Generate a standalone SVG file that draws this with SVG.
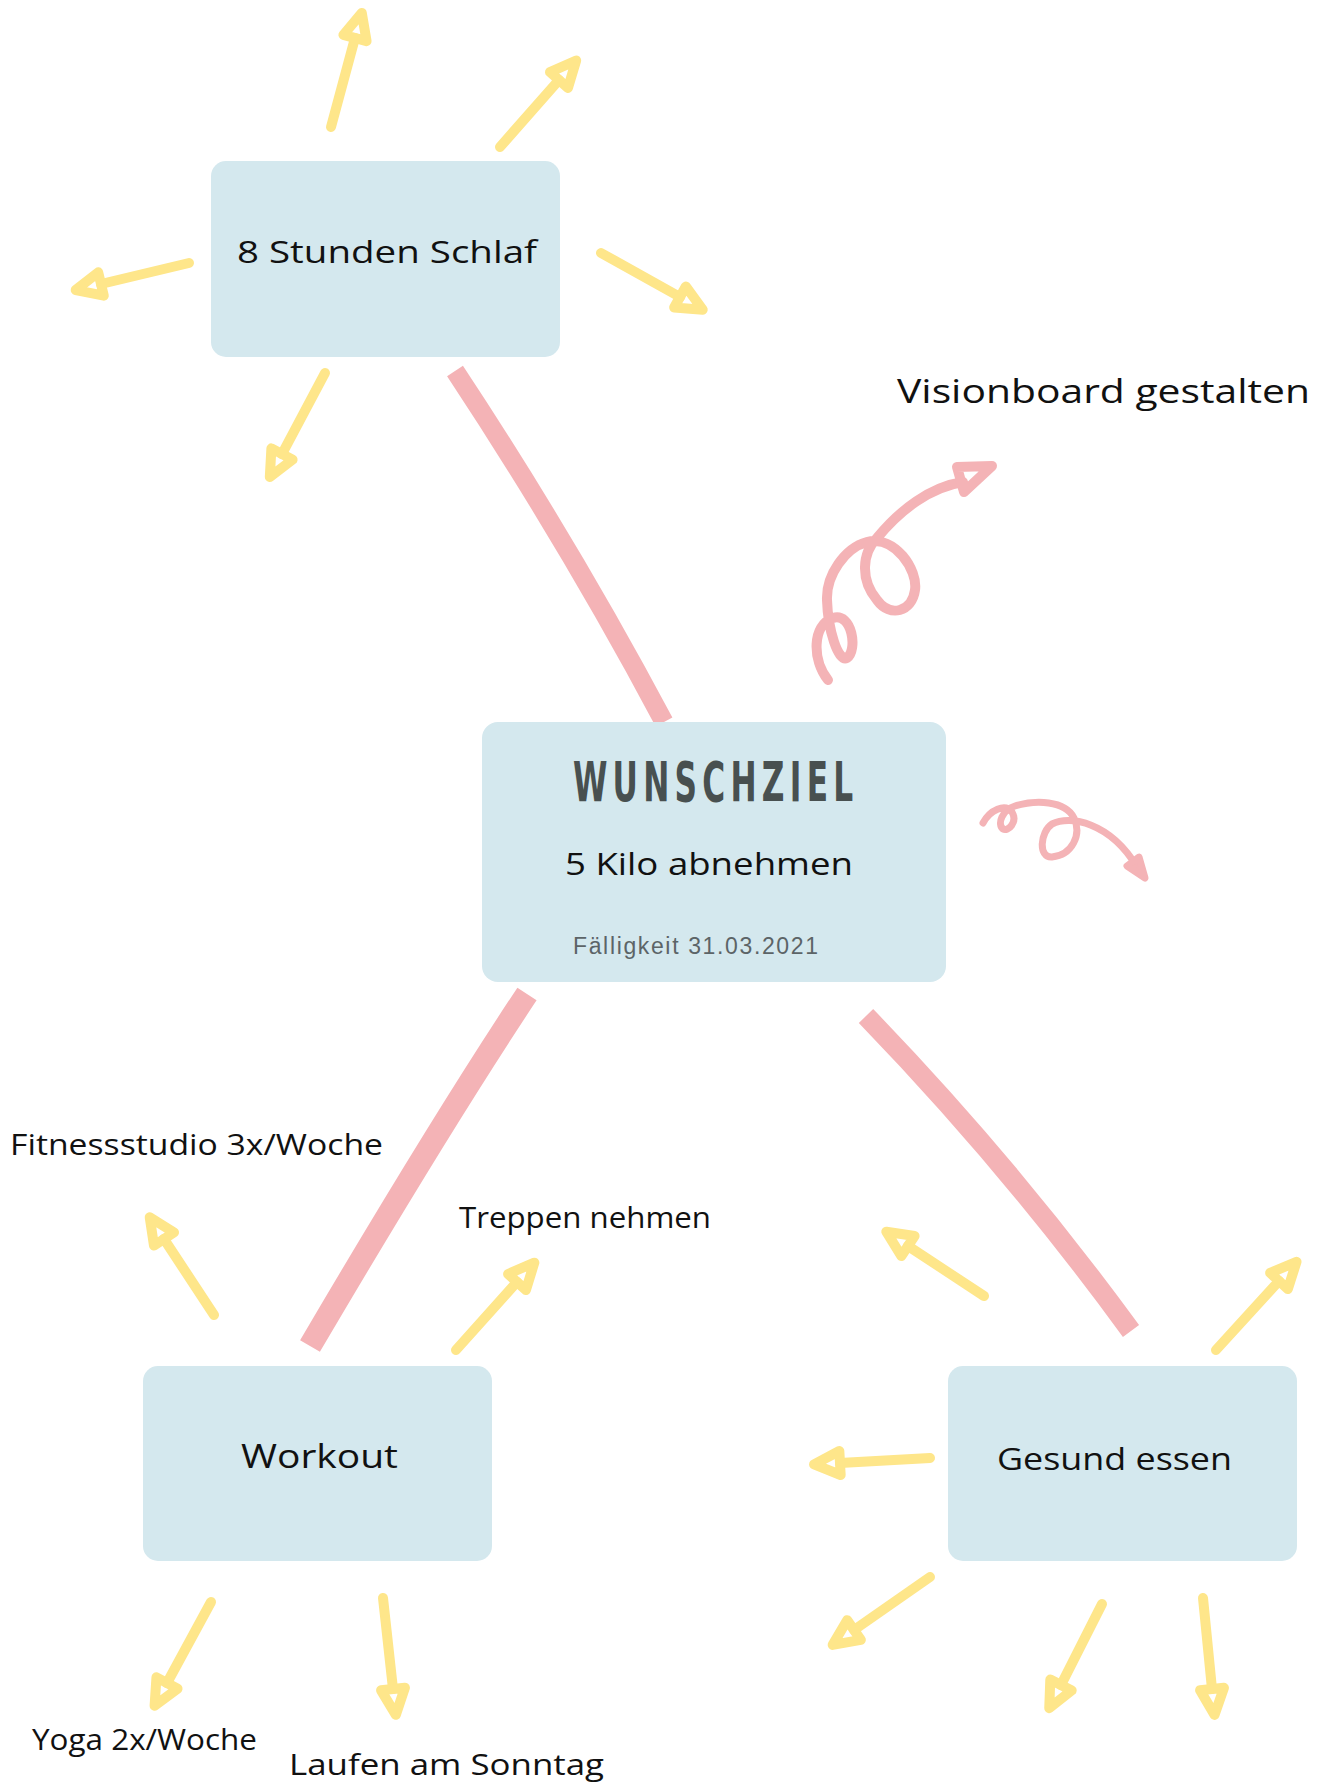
<svg xmlns="http://www.w3.org/2000/svg" width="1335" height="1790" viewBox="0 0 1335 1790">
  <style>
    .node { fill: #d4e8ee; }
    .pink { fill: none; stroke: #f4b3b6; stroke-linecap: butt; }
    .curl { fill: none; stroke: #f4b3b6; stroke-linecap: round; stroke-linejoin: round; }
    .yel { fill: none; stroke: #fee68a; stroke-width: 10; stroke-linecap: round; stroke-linejoin: round; marker-end: url(#yhead); }
    .hand { font-family: "Open Sans", "Liberation Sans", sans-serif; fill: #111; }
    .title { font-family: "DejaVu Sans Condensed", "Liberation Sans Narrow", "Liberation Sans", sans-serif; font-weight: bold; fill: #485050; }
    .due { font-family: "Liberation Sans", "Noto Sans", sans-serif; fill: #5c6467; }
  </style>
  <defs>
    <marker id="yhead" markerUnits="userSpaceOnUse" orient="auto" refX="0" refY="0" markerWidth="60" markerHeight="60" viewBox="-15 -30 60 60" overflow="visible">
      <path d="M0,-12 L26,0 L0,12 Z" fill="none" stroke="#fee68a" stroke-width="10" stroke-linejoin="round"/>
    </marker>
  </defs>
  <rect width="1335" height="1790" fill="#ffffff"/>

  <g id="connectors">
    <path class="pink" stroke-width="19" d="M455,371 Q570,545 664,722"/>
    <path class="pink" stroke-width="23" d="M527,994 Q440,1125 310,1346"/>
    <path class="pink" stroke-width="20" d="M866,1016 Q1010,1165 1131,1331"/>

    <g id="curl-visionboard">
      <path class="curl" stroke-width="10" d="M828,680 C812,660 812,625 833,618 C852,612 858,650 847,658 C838,662 828,630 827,600 C826,575 845,548 867,542 C895,535 918,570 915,590 C912,612 890,618 877,600 C860,580 862,553 877,538 C900,510 930,487 963,482"/>
      <path class="curl" stroke-width="10" d="M957,467 L992,466 L964,492 Z"/>
    </g>
    <g id="curl-right">
      <path class="curl" stroke-width="7" d="M983,823 C990,810 1005,803 1012,812 C1018,822 1008,832 1003,829 C997,824 1002,810 1015,806 C1035,800 1065,800 1074,818 C1082,835 1072,855 1052,857 C1038,858 1040,832 1052,824 C1070,815 1110,822 1137,867"/>
      <path class="curl" stroke-width="7" d="M1127,866 L1145,878 L1139,857 Z"/>
    </g>

    <path class="yel" d="M331,127 L355,38"/>
    <path class="yel" d="M500,147 L559,80"/>
    <path class="yel" d="M189,263 L101,284"/>
    <path class="yel" d="M601,253 L680,297"/>
    <path class="yel" d="M325,373 L282,454"/>

    <path class="yel" d="M214,1315 L164,1239"/>
    <path class="yel" d="M456,1350 L517,1282"/>
    <path class="yel" d="M211,1602 L167,1683"/>
    <path class="yel" d="M383,1598 L393,1689"/>

    <path class="yel" d="M984,1296 L908,1246"/>
    <path class="yel" d="M1216,1350 L1279,1281"/>
    <path class="yel" d="M930,1458 L840,1463"/>
    <path class="yel" d="M930,1577 L854,1630"/>
    <path class="yel" d="M1102,1604 L1061,1685"/>
    <path class="yel" d="M1203,1598 L1212,1689"/>
  </g>

  <g id="node-schlaf">
    <rect class="node" x="211" y="161" width="349" height="196" rx="15"/>
    <text class="hand" x="237" y="263" font-size="31" textLength="300" lengthAdjust="spacingAndGlyphs">8 Stunden Schlaf</text>
  </g>

  <g id="node-wunschziel">
    <rect class="node" x="482" y="722" width="464" height="260" rx="16"/>
    <text class="title" transform="scale(0.62,1)" x="924" y="801" font-size="56" textLength="452" lengthAdjust="spacing">WUNSCHZIEL</text>
    <text class="hand" x="565" y="875" font-size="31" textLength="288" lengthAdjust="spacingAndGlyphs">5 Kilo abnehmen</text>
    <text class="due" x="573" y="954" font-size="23" textLength="245" lengthAdjust="spacing">Fälligkeit 31.03.2021</text>
  </g>

  <g id="node-workout">
    <rect class="node" x="143" y="1366" width="349" height="195" rx="15"/>
    <text class="hand" x="241" y="1468" font-size="33" textLength="157" lengthAdjust="spacingAndGlyphs">Workout</text>
  </g>

  <g id="node-gesund">
    <rect class="node" x="948" y="1366" width="349" height="195" rx="15"/>
    <text class="hand" x="997" y="1470" font-size="31" textLength="235" lengthAdjust="spacingAndGlyphs">Gesund essen</text>
  </g>

  <g id="label-visionboard">
    <text class="hand" x="897" y="403" font-size="33" textLength="413" lengthAdjust="spacingAndGlyphs">Visionboard gestalten</text>
  </g>
  <g id="label-fitness">
    <text class="hand" x="10" y="1155" font-size="29" textLength="373" lengthAdjust="spacingAndGlyphs">Fitnessstudio 3x/Woche</text>
  </g>
  <g id="label-treppen">
    <text class="hand" x="459" y="1228" font-size="30" textLength="252" lengthAdjust="spacingAndGlyphs">Treppen nehmen</text>
  </g>
  <g id="label-yoga">
    <text class="hand" x="32" y="1750" font-size="30" textLength="225" lengthAdjust="spacingAndGlyphs">Yoga 2x/Woche</text>
  </g>
  <g id="label-laufen">
    <text class="hand" x="289" y="1775" font-size="30" textLength="315" lengthAdjust="spacingAndGlyphs">Laufen am Sonntag</text>
  </g>
</svg>
